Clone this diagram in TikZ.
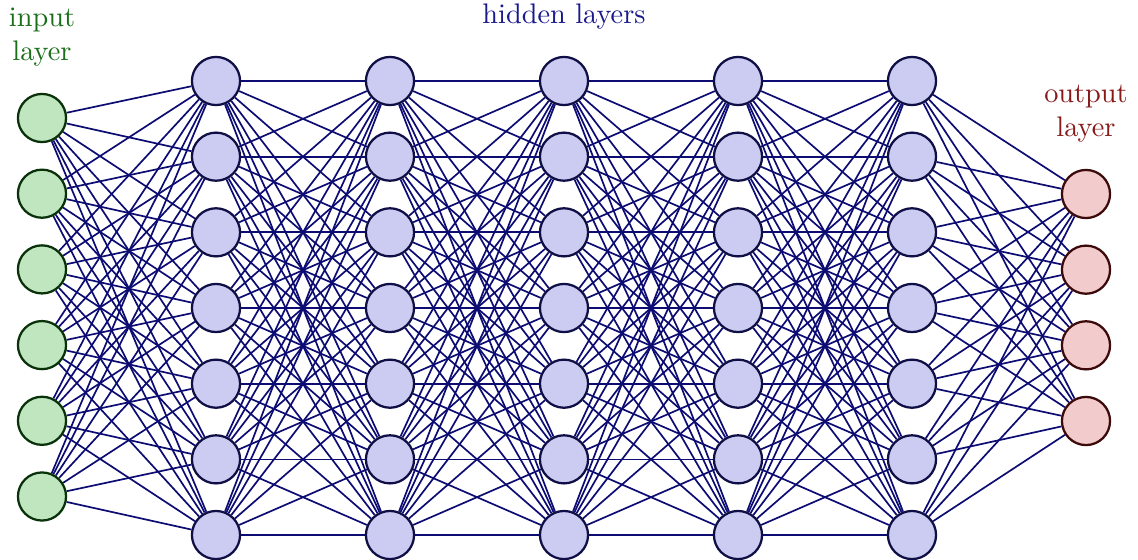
\documentclass[tikz,border=0pt]{standalone}
\usetikzlibrary{backgrounds}
\definecolor{ingreen}{RGB}{192,230,192}
\definecolor{indraw}{RGB}{10,50,10}
\definecolor{hidfill}{RGB}{204,204,242}
\definecolor{hiddraw}{RGB}{15,15,70}
\definecolor{outfill}{RGB}{242,204,204}
\definecolor{outdraw}{RGB}{60,10,10}
\definecolor{conncol}{RGB}{12,12,115}
\definecolor{intext}{RGB}{25,110,25}
\definecolor{hidtext}{RGB}{25,25,140}
\definecolor{outtext}{RGB}{135,25,25}
\tikzset{
  neuron/.style={circle,minimum size=17pt,inner sep=0pt,line width=0.8pt},
  inneuron/.style={neuron,fill=ingreen,draw=indraw},
  hidneuron/.style={neuron,fill=hidfill,draw=hiddraw},
  outneuron/.style={neuron,fill=outfill,draw=outdraw},
  conn/.style={draw=conncol,line width=0.6pt},
  lbl/.style={align=center,inner sep=0pt}
}
\begin{document}
\begin{tikzpicture}[x=0.3533pt,y=-0.3533pt]
\useasboundingbox (0,0) rectangle (1138,560);
\foreach \i in {1,...,6}
  \node[inneuron] (I\i) at (42,{118+(\i-1)*75.7}) {};
\foreach \l/\x in {1/216,2/390,3/564,4/738,5/912}
  \foreach \i in {1,...,7}
    \node[hidneuron] (H\l-\i) at (\x,{81+(\i-1)*75.67}) {};
\foreach \i in {1,...,4}
  \node[outneuron] (O\i) at (1086,{194+(\i-1)*75.67}) {};
\begin{scope}[on background layer]
  \foreach \i in {1,...,6}
    \foreach \j in {1,...,7}
      \draw[conn] (I\i) -- (H1-\j);
  \foreach \l [evaluate=\l as \m using int(\l+1)] in {1,...,4}
    \foreach \i in {1,...,7}
      \foreach \j in {1,...,7}
        \draw[conn] (H\l-\i) -- (H\m-\j);
  \foreach \i in {1,...,7}
    \foreach \j in {1,...,4}
      \draw[conn] (H5-\i) -- (O\j);
\end{scope}
\node[lbl,text=intext] (lin) at (42,37) {input\\layer};
\node[lbl,text=hidtext] (lhid) at (564,17) {hidden layers};
\node[lbl,text=outtext] (lout) at (1086,114) {output\\layer};
\end{tikzpicture}
\end{document}
